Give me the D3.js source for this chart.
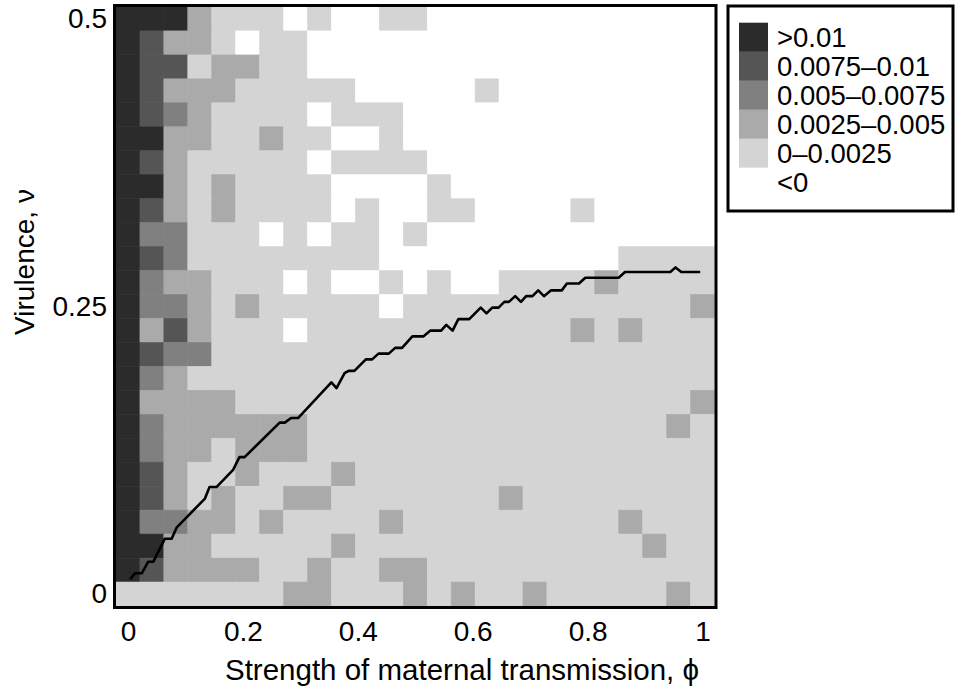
<!DOCTYPE html>
<html>
<head>
<meta charset="utf-8">
<script src="https://cdn.jsdelivr.net/npm/d3@7"></script>
<style>
  body { margin: 0; background: #fff; }
  text { font-family: "Liberation Sans", Arial, Helvetica, sans-serif; fill: #000; }
</style>
</head>
<body>
<svg id="chart" width="955" height="696"></svg>
<script>
// grid centres
const phiCells = [0, 0.0417, 0.0833, 0.125, 0.1667, 0.2083, 0.25, 0.2917, 0.3333, 0.375, 0.4167, 0.4583, 0.5,
  0.5417, 0.5833, 0.625, 0.6667, 0.7083, 0.75, 0.7917, 0.8333, 0.875, 0.9167, 0.9583, 1];
const vCells = [0.5, 0.4792, 0.4583, 0.4375, 0.4167, 0.3958, 0.375, 0.3542, 0.3333, 0.3125, 0.2917, 0.2708, 0.25,
  0.2292, 0.2083, 0.1875, 0.1667, 0.1458, 0.125, 0.1042, 0.0833, 0.0625, 0.0417, 0.0208, 0];

// selection gradient x 1000, one row per vCells entry (top row = v 0.5)
const gradX1000 = [
  [12,12,12, 4, 1, 1, 1,-1, 1,-1,-1, 1, 1,-1,-1,-1,-1,-1,-1,-1,-1,-1,-1,-1,-1],
  [12, 9, 4, 4, 1,-1, 1, 1,-1,-1,-1,-1,-1,-1,-1,-1,-1,-1,-1,-1,-1,-1,-1,-1,-1],
  [12, 9, 9, 1, 4, 4, 1, 1,-1,-1,-1,-1,-1,-1,-1,-1,-1,-1,-1,-1,-1,-1,-1,-1,-1],
  [12, 9, 4, 4, 4, 1, 1, 1, 1, 1,-1,-1,-1,-1,-1, 1,-1,-1,-1,-1,-1,-1,-1,-1,-1],
  [12, 9, 6, 4, 1, 1, 1, 1,-1, 1, 1, 1,-1,-1,-1,-1,-1,-1,-1,-1,-1,-1,-1,-1,-1],
  [12,12, 4, 4, 1, 1, 4, 1, 1,-1,-1, 1,-1,-1,-1,-1,-1,-1,-1,-1,-1,-1,-1,-1,-1],
  [12, 9, 4, 1, 1, 1, 1, 1,-1, 1, 1, 1, 1,-1,-1,-1,-1,-1,-1,-1,-1,-1,-1,-1,-1],
  [12,12, 4, 1, 4, 1, 1, 1, 1,-1,-1,-1,-1, 1,-1,-1,-1,-1,-1,-1,-1,-1,-1,-1,-1],
  [12, 9, 4, 1, 4, 1, 1, 1, 1,-1, 1,-1,-1, 1, 1,-1,-1,-1,-1, 1,-1,-1,-1,-1,-1],
  [12, 6, 6, 1, 1, 1,-1, 1,-1, 1, 1,-1, 1,-1,-1,-1,-1,-1,-1,-1,-1,-1,-1,-1,-1],
  [12, 9, 6, 1, 1, 1, 1, 1, 1, 1, 1,-1,-1,-1,-1,-1,-1,-1,-1,-1,-1, 1, 1, 1, 1],
  [12, 6, 4, 4, 1, 1, 1,-1, 1,-1,-1, 1,-1, 1,-1,-1, 1, 1, 1, 1, 4, 1, 1, 1, 1],
  [12, 6, 6, 4, 1, 4, 1, 1, 1, 1, 1,-1, 1, 1, 1, 1, 1, 1, 1, 1, 1, 1, 1, 1, 4],
  [12, 4, 9, 4, 1, 1, 1,-1, 1, 1, 1, 1, 1, 1, 1, 1, 1, 1, 1, 4, 1, 4, 1, 1, 1],
  [12, 9, 6, 6, 1, 1, 1, 1, 1, 1, 1, 1, 1, 1, 1, 1, 1, 1, 1, 1, 1, 1, 1, 1, 1],
  [12, 6, 4, 1, 1, 1, 1, 1, 1, 1, 1, 1, 1, 1, 1, 1, 1, 1, 1, 1, 1, 1, 1, 1, 1],
  [12, 4, 4, 4, 4, 1, 1, 1, 1, 1, 1, 1, 1, 1, 1, 1, 1, 1, 1, 1, 1, 1, 1, 1, 4],
  [12, 6, 4, 4, 4, 4, 4, 4, 1, 1, 1, 1, 1, 1, 1, 1, 1, 1, 1, 1, 1, 1, 1, 4, 1],
  [12, 6, 4, 4, 1, 4, 4, 4, 1, 1, 1, 1, 1, 1, 1, 1, 1, 1, 1, 1, 1, 1, 1, 1, 1],
  [12, 9, 4, 1, 1, 4, 1, 1, 1, 4, 1, 1, 1, 1, 1, 1, 1, 1, 1, 1, 1, 1, 1, 1, 1],
  [12, 9, 4, 1, 4, 1, 1, 4, 4, 1, 1, 1, 1, 1, 1, 1, 4, 1, 1, 1, 1, 1, 1, 1, 1],
  [12, 6, 6, 4, 4, 1, 4, 1, 1, 1, 1, 4, 1, 1, 1, 1, 1, 1, 1, 1, 1, 4, 1, 1, 1],
  [12,12, 4, 4, 1, 1, 1, 1, 1, 4, 1, 1, 1, 1, 1, 1, 1, 1, 1, 1, 1, 1, 4, 1, 1],
  [12, 9, 4, 4, 4, 4, 1, 1, 4, 1, 1, 4, 4, 1, 1, 1, 1, 1, 1, 1, 1, 1, 1, 1, 1],
  [ 1, 1, 1, 1, 1, 1, 1, 4, 4, 1, 1, 1, 4, 1, 4, 1, 1, 4, 1, 1, 1, 1, 1, 4, 1]
];

// black curve
const linePhi = [0.004, 0.012, 0.024, 0.035, 0.044, 0.064, 0.076, 0.085, 0.134, 0.142, 0.154, 0.183, 0.194, 0.203,
  0.264, 0.273, 0.284, 0.296, 0.354, 0.363, 0.377, 0.384, 0.394, 0.414, 0.425, 0.436, 0.454, 0.465, 0.477, 0.495,
  0.514, 0.526, 0.545, 0.554, 0.565, 0.575, 0.594, 0.614, 0.624, 0.634, 0.645, 0.655, 0.663, 0.674, 0.684, 0.693,
  0.704, 0.714, 0.724, 0.736, 0.755, 0.764, 0.785, 0.796, 0.854, 0.865, 0.944, 0.953, 0.963, 0.996];
const lineV = [0.013, 0.018, 0.018, 0.028, 0.028, 0.048, 0.048, 0.058, 0.083, 0.093, 0.093, 0.108, 0.119, 0.119,
  0.149, 0.149, 0.153, 0.153, 0.184, 0.179, 0.192, 0.194, 0.194, 0.204, 0.204, 0.209, 0.209, 0.214, 0.214, 0.224,
  0.224, 0.229, 0.229, 0.234, 0.229, 0.239, 0.239, 0.249, 0.244, 0.249, 0.249, 0.254, 0.254, 0.259, 0.254, 0.259,
  0.259, 0.264, 0.259, 0.264, 0.264, 0.27, 0.27, 0.275, 0.275, 0.28, 0.28, 0.284, 0.28, 0.28];

const phiTicks = [0, 0.2, 0.4, 0.6, 0.8, 1];
const vTicks = [0, 0.25, 0.5];
const vTickLabels = ['0', '0.25', '0.5'];

const legendLabels = ['>0.01', '0.0075\u20130.01', '0.005\u20130.0075', '0.0025\u20130.005', '0\u20130.0025', '<0'];
const legendColors = ['#2b2b2b', '#555555', '#808080', '#aaaaaa', '#d4d4d4', '#ffffff'];
const binEdges = [0, 2.5, 5, 7.5, 10];

const svg = d3.select('#chart');
const plotL = 116, plotR = 714.5, plotT = 7, plotB = 606;
const half = 1 / 48;

const x = d3.scaleLinear().domain([-half, 1 + half]).range([plotL, plotR]);
const y = d3.scaleLinear().domain([-half / 2, 0.5 + half / 2]).range([plotB, plotT]);
const fill = d3.scaleThreshold().domain(binEdges).range(legendColors.slice().reverse());

const cw = x(1 / 24) - x(0);
const ch = y(0) - y(0.5 / 24);

// cells
const cells = [];
gradX1000.forEach((row, j) => row.forEach((g, i) => cells.push({ phi: phiCells[i], v: vCells[j], g })));

svg.append('g').selectAll('rect')
  .data(cells)
  .join('rect')
  .attr('x', d => x(d.phi) - cw / 2)
  .attr('y', d => y(d.v) - ch / 2)
  .attr('width', cw)
  .attr('height', ch)
  .attr('fill', d => fill(d.g))
  .attr('stroke', d => fill(d.g))
  .attr('stroke-width', 0.6);

// curve
svg.append('path')
  .datum(linePhi.map((p, i) => [p, lineV[i]]))
  .attr('fill', 'none')
  .attr('stroke', '#000')
  .attr('stroke-width', 2.6)
  .attr('stroke-linejoin', 'round')
  .attr('d', d3.line().x(d => x(d[0])).y(d => y(d[1])));

// frame
svg.append('rect')
  .attr('x', plotL - 1.5).attr('y', plotT - 1.5)
  .attr('width', plotR - plotL + 3).attr('height', plotB - plotT + 3)
  .attr('fill', 'none').attr('stroke', '#000').attr('stroke-width', 3);

// axes (labels only, tick marks are hidden under the cells)
const xAxis = svg.append('g')
  .attr('transform', `translate(0,${plotB + 1})`)
  .call(d3.axisBottom(x).tickValues(phiTicks).tickFormat(d3.format('')).tickSize(0).tickPadding(14));
const yAxis = svg.append('g')
  .attr('transform', `translate(${plotL - 1},0)`)
  .call(d3.axisLeft(y).tickValues(vTicks).tickFormat((d, i) => vTickLabels[i]).tickSize(0).tickPadding(8));
[xAxis, yAxis].forEach(a => {
  a.select('.domain').remove();
  a.selectAll('text').attr('font-size', 28).attr('font-family', '"Liberation Sans", Arial, sans-serif');
});

svg.append('text')
  .attr('x', 462).attr('y', 680)
  .attr('text-anchor', 'middle')
  .attr('font-size', 29.5)
  .text('Strength of maternal transmission, \u03d5');

svg.append('text')
  .attr('transform', 'translate(34,262) rotate(-90)')
  .attr('text-anchor', 'middle')
  .attr('font-size', 28)
  .text('Virulence, \u03bd');

// legend
const lg = svg.append('g');
lg.append('rect')
  .attr('x', 728).attr('y', 6).attr('width', 225).attr('height', 205)
  .attr('fill', '#fff').attr('stroke', '#000').attr('stroke-width', 3);
legendLabels.forEach((lab, i) => {
  const yy = 22.7 + i * 29;
  lg.append('rect').attr('x', 739).attr('y', yy).attr('width', 29).attr('height', 29.2)
    .attr('fill', legendColors[i]);
  lg.append('text').attr('x', 777).attr('y', yy + 24.5).attr('font-size', 27.5).text(lab);
});
</script>
</body>
</html>
